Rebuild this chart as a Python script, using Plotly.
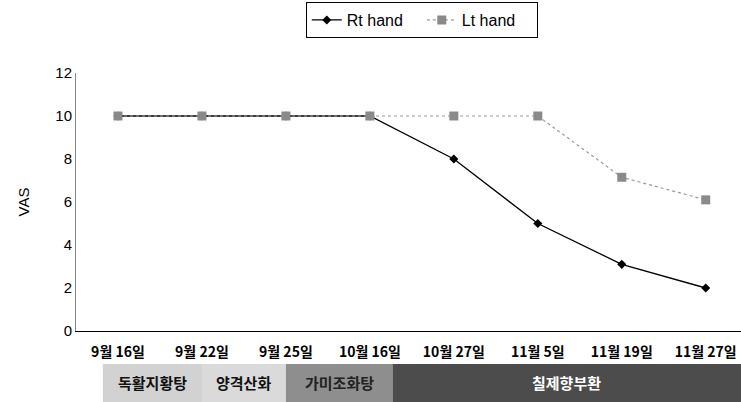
import plotly.graph_objects as go

dates = ["9월 16일", "9월 22일", "9월 25일", "10월 16일", "10월 27일", "11월 5일", "11월 19일", "11월 27일"]
rt_hand = [10, 10, 10, 10, 8, 5, 3.1, 2]
lt_hand = [10, 10, 10, 10, 10, 10, 7.15, 6.1]

treatments = ["독활지황탕", "양격산화", "가미조화탕", "칠제향부환"]
treat_start = [-0.18, 1.0, 2.0, 3.27]
treat_end = [1.0, 2.0, 3.27, 7.45]
treat_fill = ["#d2d2d2", "#dadada", "#8e8e8e", "#4c4c4c"]
treat_text = ["#111111", "#111111", "#222222", "#ffffff"]

xi = list(range(len(dates)))

fig = go.Figure()
fig.add_trace(go.Scatter(
    x=xi, y=rt_hand, name="Rt hand", mode="lines+markers",
    line=dict(color="#000000", width=1.3),
    marker=dict(symbol="diamond", size=7, color="#000000"),
))
fig.add_trace(go.Scatter(
    x=xi, y=lt_hand, name="Lt hand", mode="lines+markers",
    line=dict(color="#9a9a9a", width=1.2, dash="dot"),
    marker=dict(symbol="square", size=9, color="#8a8a8a"),
))

shapes = []
annotations = []
for name, s, e, c, tc in zip(treatments, treat_start, treat_end, treat_fill, treat_text):
    shapes.append(dict(type="rect", xref="x", yref="paper", x0=s, x1=e, y0=-0.29, y1=-0.128,
                       fillcolor=c, line=dict(width=0), layer="above"))
    annotations.append(dict(x=(s + min(e, 7.42)) / 2, y=-0.2, xref="x", yref="paper",
                            xanchor="center", yanchor="middle",
                            text=name, showarrow=False,
                            font=dict(family="Noto Sans CJK KR", size=15, color=tc, weight="bold")))

fig.update_layout(
    width=741, height=402,
    margin=dict(l=76, r=0, t=73, b=71, autoexpand=False),
    paper_bgcolor="white", plot_bgcolor="white",
    font=dict(family="Liberation Sans, Arial", color="#000000"),
    showlegend=True,
    legend=dict(orientation="h", x=0.52, xanchor="center", y=1.275, yanchor="top",
                bordercolor="#000000", borderwidth=1, font=dict(size=16),
                entrywidth=70, entrywidthmode="pixels", tracegroupgap=0),
    shapes=shapes,
    annotations=annotations,
    xaxis=dict(
        range=[-0.5, 7.42], tickmode="array", tickvals=xi, ticktext=dates,
        showgrid=False, zeroline=False, showline=True, linecolor="#000000", linewidth=1,
        ticks="", ticklabelstandoff=8,
        tickfont=dict(family="Noto Sans CJK KR", size=14, color="#000000", weight="bold"),
        fixedrange=True,
    ),
    yaxis=dict(
        range=[0, 12], tickvals=[0, 2, 4, 6, 8, 10, 12], showgrid=False, zeroline=False,
        showline=True, linecolor="#888888", linewidth=1, ticks="",
        tickfont=dict(size=15), title=dict(text="VAS", font=dict(size=15), standoff=22),
    ),
)

fig.write_html("out.html", config={"displayModeBar": False},
               post_script="document.body.style.margin='0';")
